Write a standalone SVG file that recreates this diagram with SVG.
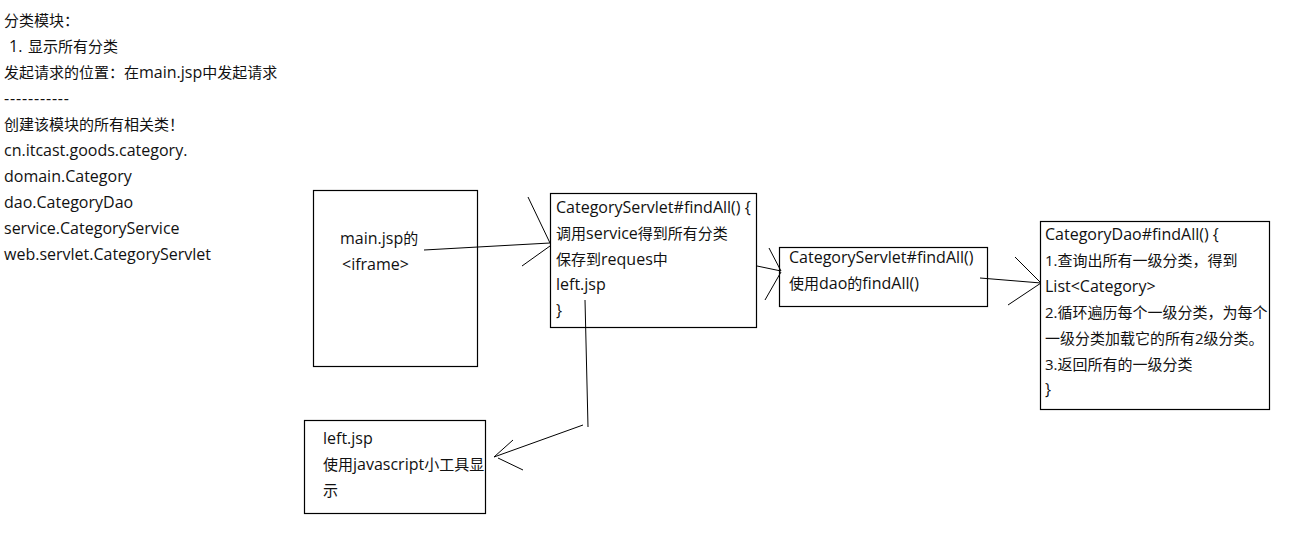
<svg xmlns="http://www.w3.org/2000/svg" width="1291" height="543" viewBox="0 0 1291 543">
<style>
text{font-family:"Open Sans","Noto Sans CJK SC",sans-serif;font-size:15px;fill:#111}
.l{font-size:16px}
.box{fill:#fff;stroke:#000;stroke-width:1.2}
.ln{stroke:#000;stroke-width:1;fill:none}
</style>
<rect width="1291" height="543" fill="#fff"/>
<g id="notes">
<text x="4" y="26">分类模块：</text>
<text x="9" y="52"><tspan class="l">1.</tspan><tspan x="28">显示所有分类</tspan></text>
<text x="4" y="78">发起请求的位置：在<tspan class="l">main.jsp</tspan>中发起请求</text>
<text class="l" x="4" y="104" textLength="65" lengthAdjust="spacing">-----------</text>
<text x="4" y="130">创建该模块的所有相关类！</text>
<text class="l" x="4" y="156">cn.itcast.goods.category.</text>
<text class="l" x="4" y="182">domain.Category</text>
<text class="l" x="4" y="208">dao.CategoryDao</text>
<text class="l" x="4" y="234">service.CategoryService</text>
<text class="l" x="4" y="260">web.servlet.CategoryServlet</text>
</g>
<g id="main-jsp">
<rect class="box" x="313.5" y="190.5" width="164" height="176"/>
<text x="340" y="244"><tspan class="l">main.jsp</tspan>的</text>
<text class="l" x="342" y="270">&lt;iframe&gt;</text>
</g>
<g id="servlet">
<rect class="box" x="550.5" y="193.5" width="206" height="134"/>
<text class="l" x="556" y="213">CategoryServlet#findAll() {</text>
<text x="556" y="239">调用<tspan class="l">service</tspan>得到所有分类</text>
<text x="556" y="265">保存到<tspan class="l">reques</tspan>中</text>
<text class="l" x="556" y="290">left.jsp</text>
<text class="l" x="556" y="316">}</text>
</g>
<g id="service">
<rect class="box" x="779.5" y="247.5" width="208" height="59"/>
<text class="l" x="789" y="263">CategoryServlet#findAll()</text>
<text x="789" y="289">使用<tspan class="l">dao</tspan>的<tspan class="l">findAll()</tspan></text>
</g>
<g id="dao">
<rect class="box" x="1040.5" y="221.5" width="229" height="188"/>
<text class="l" x="1045" y="240">CategoryDao#findAll() {</text>
<text x="1045" y="266">1.查询出所有一级分类，得到</text>
<text class="l" x="1045" y="292">List&lt;Category&gt;</text>
<text x="1045" y="318">2.循环遍历每个一级分类，为每个</text>
<text x="1045" y="344">一级分类加载它的所有2级分类。</text>
<text x="1045" y="370">3.返回所有的一级分类</text>
<text class="l" x="1045" y="395">}</text>
</g>
<g id="left-jsp">
<rect class="box" x="304.5" y="420.5" width="181" height="93"/>
<text class="l" x="323" y="444">left.jsp</text>
<text x="323" y="470">使用<tspan class="l">javascript</tspan>小工具显</text>
<text x="323" y="496">示</text>
</g>
<g id="connectors">
<path class="ln" d="M424 250 L550 243 M528 197 L550 243 M522 266 L550 246"/>
<path class="ln" d="M757 266 L781 271 M769 248 L781 271 M765 300 L781 272"/>
<path class="ln" d="M980 278 L1041 283 M1015 257 L1041 283 M1008 305 L1041 283"/>
<path class="ln" d="M585 300 L588 427 M583 425 L494 457 M513 440 L494 457 M523 470 L498 458"/>
</g>
</svg>
